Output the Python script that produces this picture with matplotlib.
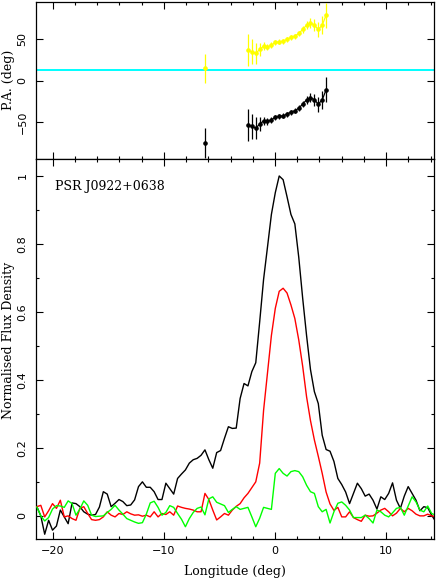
import numpy as np
import matplotlib
matplotlib.use("Agg")
import matplotlib.pyplot as plt
from matplotlib.ticker import MultipleLocator, FixedLocator, FixedFormatter

# profile bins (1024 bins over 360 deg), first bin at -21.42 deg
BIN_START = -21.42
BIN_WIDTH = 360.0 / 1024

total_I = [
    0.027, 0.0, -0.054, -0.013, -0.042, -0.03, 0.017, -0.003, -0.023, 0.038,
    0.036, 0.027, 0.012, 0.005, 0.002, 0.004, 0.026, 0.071, 0.064, 0.027,
    0.037, 0.048, 0.042, 0.03, 0.032, 0.047, 0.086, 0.1, 0.084, 0.084,
    0.071, 0.048, 0.048, 0.096, 0.08, 0.064, 0.11, 0.123, 0.135, 0.155,
    0.165, 0.169, 0.178, 0.194, 0.165, 0.14, 0.186, 0.192, 0.228, 0.262,
    0.257, 0.258, 0.345, 0.389, 0.382, 0.424, 0.45, 0.57, 0.695, 0.79,
    0.886, 0.95, 0.999, 0.988, 0.938, 0.886, 0.858, 0.76, 0.64, 0.53,
    0.43, 0.365, 0.33, 0.237, 0.195, 0.19, 0.16, 0.11, 0.092, 0.07,
    0.036, 0.066, 0.096, 0.08, 0.058, 0.064, 0.046, 0.02, 0.056, 0.048,
    0.066, 0.097, 0.046, 0.022, 0.058, 0.086, 0.066, 0.046, 0.015, 0.027,
    0.024, 0.002, -0.016,
]

linear_L = [
    0.027, 0.031, -0.003, 0.015, 0.036, 0.022, 0.046, -0.003, 0.0, -0.008,
    -0.013, 0.022, 0.027, 0.007, -0.011, -0.013, -0.011, -0.003, 0.012, 0.002,
    -0.003, 0.007, 0.004, 0.012, 0.006, 0.002, 0.003, -0.001, 0.002, -0.003,
    0.012, -0.003, 0.007, 0.004, 0.012, 0.002, 0.029, 0.025, 0.022, 0.02,
    0.017, 0.012, 0.012, 0.066, 0.048, 0.017, -0.012, -0.003, 0.007, 0.002,
    0.017, 0.028, 0.036, 0.053, 0.066, 0.083, 0.1, 0.155, 0.31, 0.42,
    0.53, 0.61, 0.66, 0.669, 0.655, 0.62, 0.58, 0.517, 0.44, 0.35,
    0.28, 0.223, 0.175, 0.125, 0.07, 0.035, 0.016, 0.025, -0.003, -0.003,
    0.012, -0.005, -0.011, -0.016, 0.002, -0.001, 0.0, 0.008, 0.017, 0.022,
    0.012, 0.0, 0.008, 0.022, 0.012, 0.022, 0.015, 0.005, 0.0, 0.0,
    0.005, 0.0, -0.002,
]

circular_V = [
    0.026, 0.0, -0.015, -0.005, 0.02, 0.03, 0.029, 0.025, 0.044, 0.036,
    0.002, 0.02, 0.044, 0.031, 0.002, -0.002, -0.001, 0.0, 0.01, 0.019,
    0.031, 0.017, 0.005, -0.008, -0.013, -0.018, -0.022, -0.02, 0.005, 0.038,
    0.043, 0.025, 0.002, 0.01, 0.03, 0.025, 0.007, -0.01, -0.032, -0.008,
    0.01, 0.022, 0.026, 0.003, 0.05, 0.056, 0.04, 0.035, 0.03, 0.01,
    0.019, 0.027, 0.019, 0.022, 0.025, -0.003, -0.032, -0.007, 0.025, 0.022,
    0.019, 0.125, 0.139, 0.125, 0.117, 0.13, 0.133, 0.13, 0.115, 0.09,
    0.071, 0.066, 0.027, 0.012, 0.019, -0.021, 0.012, 0.037, 0.041, 0.031,
    0.017, -0.005, -0.005, -0.005, 0.002, -0.008, -0.021, 0.017, 0.012, 0.002,
    -0.003, 0.009, 0.022, 0.025, 0.002, 0.029, 0.056, 0.041, 0.017, 0.012,
    0.029, 0.007, 0.002,
]

# position angle: one lone bin plus a contiguous run
pa_lone_bin = 43
pa_lone = 14.5
pa_lone_err = 18.0
pa_run_start = 54
pa_run = [
    36.6, 34.6, 32.6, 37.4, 41.4, 40.6, 42.6, 45.9, 46.6, 47.5,
    49.5, 51.9, 53.5, 56.7, 61.5, 66.7, 69.5, 66.7, 61.5, 66.7, 78.8,
]
pa_run_err = [
    19, 15, 13, 8, 5, 4, 3.5, 3, 3, 3,
    3, 3, 3, 3.5, 4, 5, 6, 7, 9, 11, 15,
]
pa_offset = 90.0       # second copy of the sweep, PA - 90
pa_ref_line = 12.5     # cyan reference angle

FLUX_TICK_LABELS = ["0", "0.2", "0.4", "0.6", "0.8", "1"]
PSR_NAME = "PSR J0922+0638"

SERIF = "DejaVu Serif"
SANS = "DejaVu Sans"
W, H = 436, 580


def style_axes(ax):
    ax.tick_params(which="both", direction="in", top=True, right=True,
                   width=0.8, labelsize=8)
    ax.tick_params(which="major", length=5)
    ax.tick_params(which="minor", length=2.5)
    for sp in ax.spines.values():
        sp.set_linewidth(0.9)
    ax.xaxis.set_major_locator(MultipleLocator(10))
    ax.xaxis.set_minor_locator(MultipleLocator(2))


def rotate_yticks(ax):
    for lab in ax.get_yticklabels():
        lab.set_rotation(90)
        lab.set_va("center")
        lab.set_family(SANS)


def main():
    n = len(total_I)
    lon = BIN_START + BIN_WIDTH * np.arange(n)

    fig = plt.figure(figsize=(W / 100, H / 100), dpi=100)
    left, right = 36 / W, 434 / W
    ax_pa = fig.add_axes([left, 1 - 159.3 / H, right - left, (159.3 - 1.7) / H])
    ax_pr = fig.add_axes([left, 1 - 539 / H, right - left, (539 - 159.3) / H])

    # --- position angle panel ---
    ax_pa.axhline(pa_ref_line, color="#00ffff", lw=1.4, zorder=1)
    run_lon = lon[pa_run_start:pa_run_start + len(pa_run)]
    run = np.array(pa_run)
    run_err = np.array(pa_run_err)
    for shift, col in ((0.0, "#ffff00"), (-pa_offset, "black")):
        ax_pa.errorbar(run_lon, run + shift, yerr=run_err, color=col,
                       ecolor=col, elinewidth=0.9, lw=0.9, marker="o",
                       ms=2.3, capsize=0, zorder=3)
        ax_pa.errorbar([lon[pa_lone_bin]], [pa_lone + shift], yerr=[pa_lone_err],
                       color=col, ecolor=col, elinewidth=0.9, lw=0,
                       marker="o", ms=2.3, capsize=0, zorder=3)

    ax_pa.set_xlim(-21.5, 14.3)
    ax_pa.set_ylim(-95, 95)
    style_axes(ax_pa)
    ax_pa.yaxis.set_major_locator(FixedLocator([-50, 0, 50]))
    ax_pa.tick_params(axis="x", labelbottom=False)
    rotate_yticks(ax_pa)
    ax_pa.yaxis.set_tick_params(pad=6)

    # --- profile panel ---
    ax_pr.plot(lon, total_I, color="black", lw=1.0, zorder=2)
    ax_pr.plot(lon, linear_L, color="#ff0000", lw=1.0, zorder=3)
    ax_pr.plot(lon, circular_V, color="#00ff00", lw=1.0, zorder=4)

    ax_pr.set_xlim(-21.5, 14.3)
    ax_pr.set_ylim(-0.068, 1.048)
    style_axes(ax_pr)
    ax_pr.yaxis.set_major_locator(FixedLocator([0, 0.2, 0.4, 0.6, 0.8, 1.0]))
    ax_pr.yaxis.set_major_formatter(FixedFormatter(FLUX_TICK_LABELS))
    ax_pr.yaxis.set_minor_locator(MultipleLocator(0.1))
    rotate_yticks(ax_pr)
    ax_pr.yaxis.set_tick_params(pad=6)
    ax_pr.xaxis.set_tick_params(pad=5)
    for lab in ax_pr.get_xticklabels():
        lab.set_family(SANS)

    # axis labels placed in figure pixels, like the original layout
    fig.text(8.5 / W, 1 - 80 / H, "P.A. (deg)", family=SERIF, fontsize=9,
             rotation=90, ha="center", va="center")
    fig.text(8.5 / W, 1 - 340 / H, "Normalised Flux Density", family=SERIF,
             fontsize=9, rotation=90, ha="center", va="center")
    fig.text(0.5 * (left + right), 1 - 572 / H, "Longitude (deg)", family=SERIF,
             fontsize=9, ha="center", va="center")

    ax_pr.text(0.048, 0.928, PSR_NAME, transform=ax_pr.transAxes,
               family=SERIF, fontsize=9, ha="left", va="center")

    fig.savefig("out.png", dpi=100)


if __name__ == "__main__":
    main()
